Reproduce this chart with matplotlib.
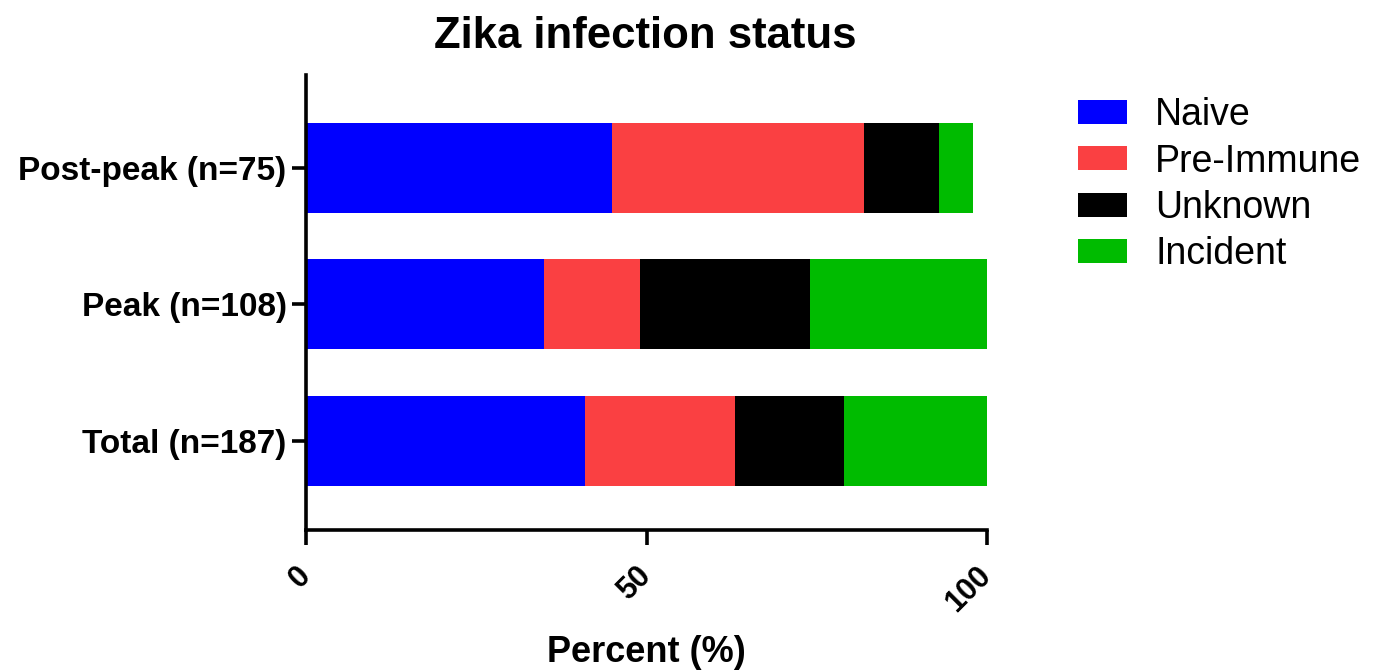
import matplotlib
matplotlib.use("Agg")
import matplotlib.pyplot as plt
import numpy as np
from matplotlib.patches import Patch

plt.rcParams['font.family'] = ['Liberation Sans', 'DejaVu Sans']

categories = ["Total (n=187)", "Peak (n=108)", "Post-peak (n=75)"]
series_names = ["Naive", "Pre-Immune", "Unknown", "Incident"]
naive = [41, 35, 45]
pre_immune = [22, 14, 37]
unknown = [16, 25, 11]
incident = [21, 26, 5]
colors = ["#0000FF", "#FA4042", "#000000", "#00BB00"]
xticks = [0, 50, 100]

fig = plt.figure(figsize=(13.75, 6.7), dpi=100)
ax = fig.add_axes([306/1375, 1-530/670, (987-306)/1375, (530-75)/670])

y = np.arange(len(categories))
left = np.zeros(len(categories))
for name, vals, c in zip(series_names, [naive, pre_immune, unknown, incident], colors):
    ax.barh(y, vals, left=left, height=0.66, color=c, label=name)
    left += np.array(vals)

ax.set_xlim(0, 100)
ax.set_ylim(-0.652, 2.68)
ax.set_yticks(y)
ax.set_yticklabels(categories, fontsize=24, fontweight='bold')
ax.set_xticks(xticks)
ax.set_xticklabels([str(t) for t in xticks], fontsize=22, fontweight='bold',
                   rotation=45, ha='right', va='center', rotation_mode='anchor')
for s in ['top', 'right']:
    ax.spines[s].set_visible(False)
for s in ['left', 'bottom']:
    ax.spines[s].set_linewidth(2.6)
ax.tick_params(axis='x', length=10.5, width=2.6, pad=19)
ax.tick_params(axis='y', length=10, width=2.6, pad=4)

ax.set_xlabel("Percent (%)", fontsize=26, fontweight='bold', va='center')
ax.xaxis.set_label_coords(0.5, (530-652)/455)
fig.text(645/1375, 1-36/670, "Zika infection status", fontsize=31.5, fontweight='bold',
         ha='center', va='center')

handles = [Patch(facecolor=c, label=n) for n, c in zip(series_names, colors)]
fig.legend(handles=handles, loc='upper left', bbox_to_anchor=(1078/1375, 1-97/670),
           frameon=False, fontsize=27, handlelength=1.31, handleheight=0.59,
           handletextpad=0.75, labelspacing=0.28, borderaxespad=0, borderpad=0)

fig.savefig("out.png", dpi=100)
